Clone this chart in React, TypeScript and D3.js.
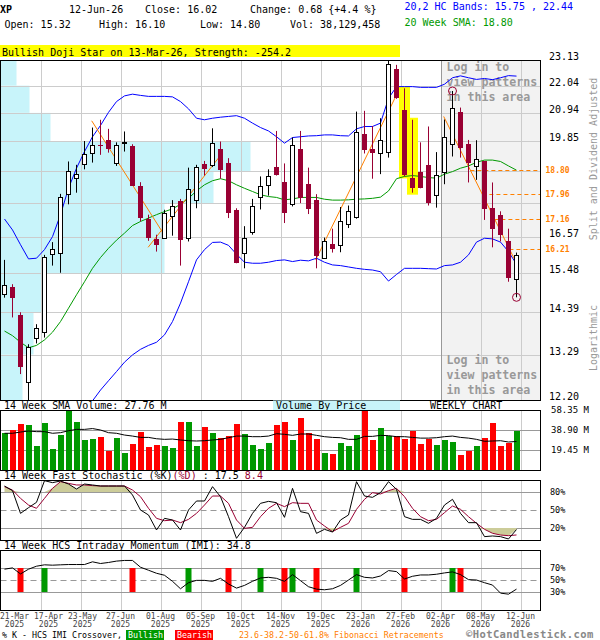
import * as d3 from 'd3';

const FONT = '"DejaVu Sans Mono", "Liberation Mono", monospace';
const CRIMSON = '#990033';
const GREEN = '#009900';
const RED = '#ff0000';
const BLUE = '#0000ff';
const ORANGE = '#ff8000';
const CYAN = '#c8f4fa';

// weekly candles, 21-Mar-2025 .. 12-Jun-2026
const opens = [14.88, 15.08, 14.32, 12.61, 13.72, 13.87, 16.05, 16.10, 17.97, 18.52,
  19.01, 19.43, 19.72, 19.89, 19.04, 19.78, 19.68, 18.25, 17.15, 16.53,
  16.54, 17.25, 17.74, 16.54, 17.76, 19.03, 18.98, 19.57, 19.06, 17.45,
  16.08, 16.74, 17.87, 18.27, 18.91, 18.39, 17.63, 19.57, 18.32, 17.76,
  15.93, 16.37, 16.33, 16.98, 17.20, 20.13, 19.55, 19.41, 19.47, 22.75,
  21.06, 18.52, 18.72, 18.99, 17.95, 18.73, 19.74, 20.99, 19.74, 18.95,
  19.11, 17.51, 17.29, 16.46, 15.32];
const highs = [15.88, 15.17, 14.39, 13.55, 14.07, 16.03, 16.42, 17.98, 19.11, 18.99,
  19.86, 20.37, 20.67, 20.32, 19.81, 20.22, 19.74, 18.38, 17.29, 16.65,
  17.45, 17.77, 17.81, 18.89, 18.99, 19.13, 20.34, 19.84, 19.23, 17.50,
  16.92, 17.81, 18.58, 18.83, 20.24, 19.04, 19.99, 20.24, 18.89, 17.97,
  16.56, 16.84, 17.54, 17.59, 20.99, 21.02, 20.43, 20.73, 23.09, 22.92,
  21.93, 20.67, 19.81, 20.41, 19.45, 20.68, 21.82, 21.15, 19.90, 19.89,
  19.13, 18.37, 17.40, 16.84, 16.10];
const lows = [14.79, 14.25, 12.81, 12.15, 13.57, 13.72, 15.71, 15.50, 17.63, 18.02,
  18.83, 19.07, 19.35, 19.43, 18.95, 19.47, 18.25, 17.07, 16.46, 16.13,
  16.52, 16.62, 15.71, 16.44, 17.50, 18.61, 18.91, 18.50, 17.18, 15.78,
  15.63, 16.65, 17.46, 17.92, 18.61, 17.02, 17.56, 17.67, 17.31, 15.63,
  15.91, 16.10, 16.11, 16.86, 17.16, 19.40, 18.50, 18.66, 19.25, 21.50,
  18.58, 18.02, 18.17, 17.59, 17.52, 18.31, 19.29, 19.25, 18.37, 18.46,
  17.12, 16.26, 16.44, 15.24, 14.80];
const closes = [15.15, 14.79, 12.99, 13.47, 13.96, 15.96, 16.21, 17.87, 18.76, 18.67,
  19.37, 19.72, 19.67, 19.55, 19.72, 19.81, 18.26, 17.17, 16.56, 16.34,
  17.33, 17.57, 16.47, 18.14, 18.91, 18.85, 19.78, 18.79, 17.33, 15.79,
  16.56, 17.56, 18.24, 18.61, 18.63, 17.36, 19.72, 17.83, 17.48, 16.01,
  16.46, 16.21, 17.09, 17.42, 20.19, 19.52, 19.40, 19.90, 22.95, 21.52,
  18.63, 18.19, 18.19, 17.69, 18.63, 20.01, 21.12, 19.60, 19.05, 19.19,
  17.47, 16.83, 16.65, 15.34, 16.02];
// volume in millions
const volumes = [36.0, 38.9, 44.7, 43.8, 23.3, 45.7, 20.4, 34.3, 57.4, 46.7,
  29.2, 30.1, 32.1, 18.5, 31.1, 16.5, 25.6, 37.0, 22.4, 24.3,
  23.3, 21.4, 46.7, 46.7, 23.3, 41.8, 36.0, 31.1, 33.1, 44.7,
  35.0, 24.3, 20.4, 26.3, 43.8, 46.7, 29.2, 50.6, 36.0, 30.1,
  16.5, 15.6, 26.3, 23.3, 34.0, 57.4, 29.2, 40.8, 33.1, 33.1,
  30.1, 37.9, 25.3, 30.1, 24.3, 29.2, 27.2, 14.6, 18.5, 23.3,
  31.1, 45.7, 23.3, 26.3, 38.13];
const volSma14 = [35.7, 35.7, 36.9, 37.9, 37.3, 37.3, 35.7, 36.3, 38.2, 39.5,
  39.5, 40.3, 38.9, 36.3, 35.7, 34.0, 33.0, 31.7, 31.7, 30.4,
  29.8, 30.1, 29.2, 28.5, 28.2, 28.5, 29.2, 29.8, 31.4, 33.0,
  33.0, 32.4, 32.4, 33.0, 35.3, 34.7, 33.7, 35.0, 35.0, 33.7,
  32.4, 31.7, 31.4, 29.8, 29.8, 32.7, 32.7, 33.7, 33.4, 32.4,
  32.4, 31.7, 31.0, 31.0, 31.4, 32.4, 33.0, 31.7, 31.0, 29.8,
  27.9, 28.2, 28.5, 27.2, 27.76];
const bandUpper = [17.15, 16.80, 16.34, 15.91, 15.93, 16.19, 16.59, 17.29, 18.17, 18.87,
  19.47, 20.02, 20.45, 20.96, 21.39, 21.62, 21.69, 21.64, 21.60, 21.60,
  21.60, 21.58, 21.39, 21.10, 20.73, 20.67, 20.73, 20.77, 20.80, 20.83,
  20.73, 20.54, 20.37, 20.24, 20.02, 19.78, 19.99, 20.02, 20.05, 20.06,
  20.09, 20.09, 20.06, 20.05, 20.32, 20.41, 20.41, 20.54, 21.52, 22.00,
  22.00, 22.00, 21.97, 21.97, 21.97, 22.10, 22.37, 22.45, 22.37, 22.30,
  22.34, 22.29, 22.37, 22.46, 22.44];
const bandLower = [10.70, 10.85, 10.95, 11.05, 11.15, 11.25, 11.35, 11.50, 11.70, 11.90,
  12.05, 12.18, 12.43, 12.65, 12.87, 13.10, 13.28, 13.42, 13.52, 13.60,
  13.79, 14.14, 14.64, 15.24, 15.88, 16.19, 16.41, 16.42, 16.32, 16.05,
  15.81, 15.78, 15.78, 15.81, 15.86, 15.88, 15.83, 15.87, 15.85, 15.93,
  15.81, 15.73, 15.71, 15.67, 15.63, 15.60, 15.58, 15.53, 15.26, 15.45,
  15.63, 15.63, 15.63, 15.62, 15.61, 15.71, 15.73, 15.81, 16.03, 16.42,
  16.54, 16.52, 16.42, 16.13, 15.75];
const sma20 = [13.89, 13.77, 13.60, 13.46, 13.52, 13.66, 13.86, 14.14, 14.50, 14.87,
  15.24, 15.63, 15.95, 16.23, 16.48, 16.70, 16.94, 17.07, 17.18, 17.29,
  17.39, 17.48, 17.63, 17.83, 18.08, 18.29, 18.43, 18.50, 18.43, 18.29,
  18.17, 18.06, 17.95, 17.89, 17.86, 17.78, 17.81, 17.86, 17.86, 17.86,
  17.80, 17.77, 17.77, 17.78, 17.80, 17.81, 17.83, 17.87, 18.08, 18.50,
  18.58, 18.61, 18.58, 18.54, 18.52, 18.66, 18.75, 18.87, 18.95, 19.08,
  19.16, 19.16, 19.11, 18.95, 18.80];
const stochK = [90.0, 82.2, 44.4, 53.9, 62.8, 98.9, 95.6, 98.3, 93.3, 85.0,
  93.3, 91.7, 90.0, 90.0, 90.0, 90.0, 75.0, 50.0, 41.7, 16.7,
  36.1, 33.3, 16.7, 50.0, 65.0, 65.0, 88.9, 72.2, 38.9, 2.8,
  21.1, 44.4, 61.1, 64.4, 62.2, 37.8, 86.1, 47.2, 44.4, 11.1,
  17.8, 13.3, 33.3, 41.7, 97.2, 73.3, 71.1, 78.9, 97.2, 84.4,
  38.9, 34.4, 34.4, 27.8, 36.1, 58.3, 67.8, 44.4, 28.9, 28.9,
  5.6, 6.7, 5.6, 1.7, 17.5];
const stochD = [88.9, 83.3, 69.4, 58.3, 52.8, 69.4, 86.1, 97.2, 94.4, 91.7,
  91.7, 90.6, 90.0, 90.0, 90.0, 90.0, 83.3, 72.2, 52.8, 36.1,
  32.2, 33.3, 28.9, 34.4, 44.4, 58.3, 73.3, 73.3, 61.1, 33.3,
  19.4, 21.1, 38.9, 52.8, 61.1, 55.6, 62.2, 61.1, 61.1, 33.3,
  23.3, 13.9, 21.1, 27.8, 51.1, 67.8, 78.9, 76.7, 82.2, 86.1,
  72.2, 52.8, 38.9, 32.2, 34.4, 45.6, 56.7, 51.1, 38.9, 27.8,
  17.8, 11.2, 8.3, 7.2, 8.4];
const imi = [68.0, 70.2, 60.1, 68.0, 73.0, 75.3, 74.7, 75.3, 75.8, 75.8,
  75.8, 80.3, 77.5, 79.2, 81.5, 82.6, 82.6, 71.3, 66.3, 61.2,
  57.9, 47.8, 35.4, 45.5, 49.4, 49.4, 47.8, 52.8, 43.3, 36.5,
  41.0, 47.8, 53.4, 54.5, 52.8, 47.8, 59.0, 48.9, 38.8, 34.8,
  33.7, 35.4, 41.0, 50.0, 59.0, 54.5, 53.4, 56.7, 65.7, 64.0,
  51.7, 56.2, 58.4, 58.4, 59.6, 61.8, 63.5, 59.0, 50.6, 50.0,
  45.5, 41.6, 28.1, 26.4, 34.8];
const bullishCross = [5, 23, 32, 36, 44, 56];
const bearishCross = [2, 16, 28, 35, 39, 50, 57];

const axisIdx = [0, 4, 9, 14, 19, 24, 29, 34, 39, 44, 49, 54, 59, 64];
const axisDay = ['21-Mar', '17-Apr', '23-May', '27-Jun', '01-Aug', '05-Sep', '10-Oct',
  '14-Nov', '19-Dec', '23-Jan', '27-Feb', '02-Apr', '08-May', '12-Jun'];
const axisYear = ['2025', '2025', '2025', '2025', '2025', '2025', '2025',
  '2025', '2025', '2026', '2026', '2026', '2026', '2026'];

const priceGrid = [12.2, 13.29, 14.39, 15.48, 16.57, 17.67, 18.76, 19.85, 20.94, 22.04, 23.13];
const priceLabels = [12.2, 13.29, 14.39, 15.48, 16.57, 19.85, 20.94, 22.04, 23.13];
// volume by price, bins between priceGrid levels (bottom to top)
const vbpVolume = [22, 33, 41, 164, 164, 213, 250, 50, 29, 16];
const fibLevels = [18.80, 17.96, 17.16, 16.21];
const trendStart = [[10.9, 20.63], [17.95, 16.26], [38.9, 15.88], [54.9, 20.80]];
const trendEnd = [[19.95, 16.65], [26.9, 19.29], [49, 21.66], [64, 15.78]];
const patternIdx = [50, 51];
const highCircles = [56];
const lowCircles = [64];
const lockedFrom = 54;
const volTicks = [19.45, 38.90, 58.35];
const stochLevels = [20, 50, 80];
const imiLevels = [30, 50, 70];

export default function App() {
  const n = opens.length;
  const idx = d3.range(n);
  const x = d3.scaleLinear().domain([0, n - 1]).range([4.5, 516.5]);
  const y = d3.scaleLog().domain([12.2, 23.13]).range([400, 60]);
  const vy = d3.scaleLinear().domain([0, 58.35]).range([470, 410]);
  const sy = d3.scaleLinear().domain([0, 100]).range([540, 480]);
  const iy = d3.scaleLinear().domain([0, 100]).range([610, 550]);
  const vbpX = d3.scaleLinear().domain([0, d3.max(vbpVolume)!]).range([0, 250]);

  const line = (arr: number[], sc: (v: number) => number) =>
    d3.line<number>().x((i) => x(i)).y((i) => sc(arr[i]))(idx) || '';

  const gridX = axisIdx.slice(1).map((i) => Math.round(x(i) + 4) + 0.5);
  const crisp = (v: number) => Math.round(v) + 0.5;

  // x labels: centred on grid, pushed right to avoid overlap
  const labelW = 29;
  let prevRight = -Infinity;
  const axisPos = axisIdx.map((i) => {
    let left = x(i) + 4 - labelW / 2;
    left = Math.max(left, 0, prevRight + 5);
    prevRight = left + labelW;
    return left + labelW / 2;
  });

  const upperFill = d3.area<number>()
    .x((i) => x(i))
    .y0(sy(80))
    .y1((i) => sy(Math.max(80, Math.min(stochK[i], stochD[i]))))(idx) || '';
  const lowerFill = d3.area<number>()
    .x((i) => x(i))
    .y0(sy(20))
    .y1((i) => sy(Math.min(20, Math.max(stochK[i], stochD[i]))))(idx) || '';

  // fib lines start where the last trend line crosses them
  const t4s = trendStart[3], t4e = trendEnd[3];
  const fx0 = x(t4s[0]), fy0 = y(t4s[1]), fx1 = x(t4e[0]), fy1 = y(t4e[1]);
  const fibStart = (lv: number) => fx0 + ((y(lv) - fy0) / (fy1 - fy0)) * (fx1 - fx0);

  const txt = { fontFamily: FONT, fontSize: 10 };
  const lockX = Math.round(x(lockedFrom) + 4) + 0.5;

  const lowerPanel = (top: number, bottom: number) => (
    <g>
      {gridX.map((gx) => (
        <line key={gx} x1={gx} x2={gx} y1={top} y2={bottom} stroke="#cccccc" />
      ))}
    </g>
  );

  return (
    <svg width={600} height={640} style={{ position: 'absolute', left: 0, top: 0, background: '#fff' }}>
      <defs>
        <clipPath id="main-clip">
          <rect x={0.5} y={60.5} width={540} height={340} />
        </clipPath>
      </defs>
      <rect x={0} y={0} width={600} height={640} fill="#fff" />

      {/* header */}
      <g {...txt}>
        <text x={0} y={13} fontWeight="bold">XP</text>
        <text x={69} y={13}>12-Jun-26</text>
        <text x={145} y={13}>Close: 16.02</text>
        <text x={250} y={13}>Change: 0.68 {'{+4.4 %}'}</text>
        <text x={4.5} y={27.5}>Open: 15.32</text>
        <text x={99} y={27.5}>High: 16.10</text>
        <text x={200} y={27.5}>Low: 14.80</text>
        <text x={290} y={27.5}>Vol: 38,129,458</text>
        <text x={404.5} y={10} fill={BLUE}>20,2 HC Bands: 15.75 , 22.44</text>
        <text x={404.5} y={26} fill={GREEN}>20 Week SMA: 18.80</text>
        <rect x={0} y={45} width={400} height={12} fill="#ffff00" />
        <text x={2} y={55.5}>Bullish Doji Star on 13-Mar-26, Strength: -254.2</text>
      </g>

      {/* main price panel */}
      <rect x={lockX} y={60.5} width={540.5 - lockX} height={340} fill="#f2f2f2" />
      <g clipPath="url(#main-clip)">
        {vbpVolume.map((v, k) => (
          <rect key={k} x={0.5} y={y(priceGrid[k + 1])} width={vbpX(v)}
            height={y(priceGrid[k]) - y(priceGrid[k + 1])} fill={CYAN} />
        ))}
      </g>
      {priceGrid.slice(1, -1).map((p) => (
        <line key={p} x1={0.5} x2={540.5} y1={crisp(y(p))} y2={crisp(y(p))} stroke="#cccccc" />
      ))}
      {gridX.map((gx) => (
        <line key={gx} x1={gx} x2={gx} y1={60.5} y2={400.5} stroke="#cccccc" />
      ))}
      <line x1={lockX} x2={lockX} y1={60.5} y2={400.5} stroke="#999999" />

      <g fontFamily={FONT} fontWeight="bold" fontSize={11.6} fill="#999999">
        <text x={446.5} y={71}>Log in to</text>
        <text x={446.5} y={86}>view patterns</text>
        <text x={446.5} y={101}>in this area</text>
        <text x={446.5} y={364}>Log in to</text>
        <text x={446.5} y={379}>view patterns</text>
        <text x={446.5} y={394}>in this area</text>
      </g>

      <g clipPath="url(#main-clip)">
        {patternIdx.map((i) => (
          <rect key={i} x={x(i) - 5.5} y={y(highs[i]) - 2} width={11}
            height={y(lows[i]) - y(highs[i]) + 4} fill="#ffff00" />
        ))}
        <path d={line(bandUpper, y)} fill="none" stroke={BLUE} />
        <path d={line(bandLower, y)} fill="none" stroke={BLUE} />
        <path d={line(sma20, y)} fill="none" stroke={GREEN} />
        {trendStart.map((s, k) => (
          <line key={k} x1={x(s[0])} y1={y(s[1])} x2={x(trendEnd[k][0])} y2={y(trendEnd[k][1])}
            stroke={ORANGE} strokeWidth={1} />
        ))}
        {fibLevels.map((lv) => (
          <line key={lv} x1={fibStart(lv)} x2={540} y1={crisp(y(lv))} y2={crisp(y(lv))}
            stroke={ORANGE} strokeDasharray="4,3" />
        ))}
        {idx.map((i) => {
          const c = x(i);
          const up = closes[i] >= opens[i];
          const col = up ? '#000' : CRIMSON;
          const top = Math.round(y(Math.max(opens[i], closes[i])));
          const bot = Math.round(y(Math.min(opens[i], closes[i])));
          return (
            <g key={i}>
              <line x1={c} x2={c} y1={y(highs[i])} y2={y(lows[i])} stroke={col} />
              {up ? (
                <rect x={c - 2} y={top + 0.5} width={4} height={Math.max(1, bot - top)}
                  fill="#fff" stroke="#000" />
              ) : (
                <rect x={c - 2.5} y={top} width={5} height={Math.max(1, bot - top)}
                  fill={CRIMSON} shapeRendering="crispEdges" />
              )}
            </g>
          );
        })}
        {highCircles.map((i) => (
          <circle key={'h' + i} cx={x(i)} cy={y(highs[i])} r={4} fill="none" stroke={CRIMSON} />
        ))}
        {lowCircles.map((i) => (
          <circle key={'l' + i} cx={x(i)} cy={y(lows[i])} r={4} fill="none" stroke={CRIMSON} />
        ))}
      </g>
      <rect x={0.5} y={60.5} width={540} height={340} fill="none" stroke="#000" />

      {/* right axis */}
      <g {...txt}>
        {priceLabels.map((p) => (
          <text key={p} x={549} y={Math.round(y(p))}>{p.toFixed(2)}</text>
        ))}
      </g>
      <g fontFamily={FONT} fontSize={8} fontWeight="bold" fill={ORANGE}>
        {fibLevels.map((lv) => (
          <text key={lv} x={545.5} y={y(lv) + 3}>{lv.toFixed(2)}</text>
        ))}
      </g>
      <g fontFamily={FONT} fontSize={10} fill="#999999">
        <text transform="translate(597,159) rotate(-90)" textAnchor="middle">Split and Dividend Adjusted</text>
        <text transform="translate(597,338) rotate(-90)" textAnchor="middle">Logarithmic</text>
      </g>

      {/* volume panel */}
      <g {...txt}>
        <text x={4} y={408.5}>14 Week SMA Volume: 27.76 M</text>
        <rect x={273} y={400.5} width={127} height={9.5} fill={CYAN} />
        <text x={276} y={408.5}>Volume By Price</text>
        <text x={430} y={408.5}>WEEKLY CHART</text>
      </g>
      {lowerPanel(410.5, 470.5)}
      {volTicks.slice(0, 2).map((v) => (
        <line key={v} x1={0.5} x2={540.5} y1={crisp(vy(v))} y2={crisp(vy(v))} stroke="#999999" />
      ))}
      {idx.map((i) => (
        <rect key={i} x={x(i) - 3} y={vy(volumes[i])} width={6} height={vy(0) - vy(volumes[i])}
          fill={closes[i] >= opens[i] ? GREEN : RED} shapeRendering="crispEdges" />
      ))}
      <path d={line(volSma14, vy)} fill="none" stroke="#000" />
      <rect x={0.5} y={410.5} width={540} height={60} fill="none" stroke="#000" />
      <g fontFamily={FONT} fontSize={9}>
        {volTicks.map((v) => (
          <text key={v} x={551} y={vy(v) + 3}>{v.toFixed(2)} M</text>
        ))}
      </g>

      {/* stochastic panel */}
      <text x={4} y={478.5} {...txt}>
        14 Week Fast Stochastic (%K)<tspan fill={CRIMSON}>(%D)</tspan>{' : 17.5 '}
        <tspan fill={CRIMSON}>8.4</tspan>
      </text>
      {lowerPanel(480.5, 540.5)}
      {stochLevels.map((v) => (
        <line key={v} x1={0.5} x2={540.5} y1={crisp(sy(v))} y2={crisp(sy(v))} stroke="#999999"
          strokeDasharray={v === 50 ? '6,4' : undefined} />
      ))}
      <path d={upperFill} fill="#cccc99" />
      <path d={lowerFill} fill="#cccc99" />
      <path d={line(stochD, sy)} fill="none" stroke={CRIMSON} />
      <path d={line(stochK, sy)} fill="none" stroke="#000" />
      <rect x={0.5} y={480.5} width={540} height={60} fill="none" stroke="#000" />
      <g fontFamily={FONT} fontSize={8.5}>
        {stochLevels.map((v) => (
          <text key={v} x={550} y={sy(v) + 3}>{v}%</text>
        ))}
      </g>

      {/* IMI panel */}
      <text x={4} y={548.5} {...txt}>14 Week HCS Intraday Momentum (IMI): 34.8</text>
      {lowerPanel(550.5, 610.5)}
      {imiLevels.map((v) => (
        <line key={v} x1={0.5} x2={540.5} y1={crisp(iy(v))} y2={crisp(iy(v))} stroke="#999999"
          strokeDasharray={v === 50 ? '6,4' : undefined} />
      ))}
      {bullishCross.map((i) => (
        <rect key={'b' + i} x={x(i) - 3} y={iy(70)} width={6} height={iy(30) - iy(70)} fill={GREEN} />
      ))}
      {bearishCross.map((i) => (
        <rect key={'r' + i} x={x(i) - 3} y={iy(70)} width={6} height={iy(30) - iy(70)} fill={RED} />
      ))}
      <path d={line(imi, iy)} fill="none" stroke="#000" />
      <rect x={0.5} y={550.5} width={540} height={60} fill="none" stroke="#000" />
      <g fontFamily={FONT} fontSize={8.5}>
        {imiLevels.map((v) => (
          <text key={v} x={550} y={iy(v) + 3}>{v}%</text>
        ))}
      </g>

      {/* date axis */}
      <g fontFamily={FONT} fontSize={8} fill="#444" textAnchor="middle">
        {axisDay.map((d, k) => (
          <g key={d}>
            <text x={axisPos[k]} y={618.5}>{d}</text>
            <text x={axisPos[k]} y={626.5}>{axisYear[k]}</text>
          </g>
        ))}
      </g>

      {/* footer legend */}
      <g fontFamily={FONT} fontSize={8.3}>
        <text x={2} y={637.5}>% K - HCS IMI Crossover,</text>
        <rect x={126} y={630} width={38} height={10} fill={GREEN} />
        <text x={128} y={637.5} fill="#fff">Bullish</text>
        <rect x={175} y={630} width={38} height={10} fill={RED} />
        <text x={177} y={637.5} fill="#fff">Bearish</text>
        <text x={239} y={637.5} fill={ORANGE}>23.6-38.2-50-61.8% Fibonacci Retracements</text>
      </g>
      <text x={466} y={637.5} fontFamily={FONT} fontSize={10.5} fontWeight="bold" fill="#888"
        letterSpacing={0.4}>
        ©HotCandlestick.com
      </text>
    </svg>
  );
}
